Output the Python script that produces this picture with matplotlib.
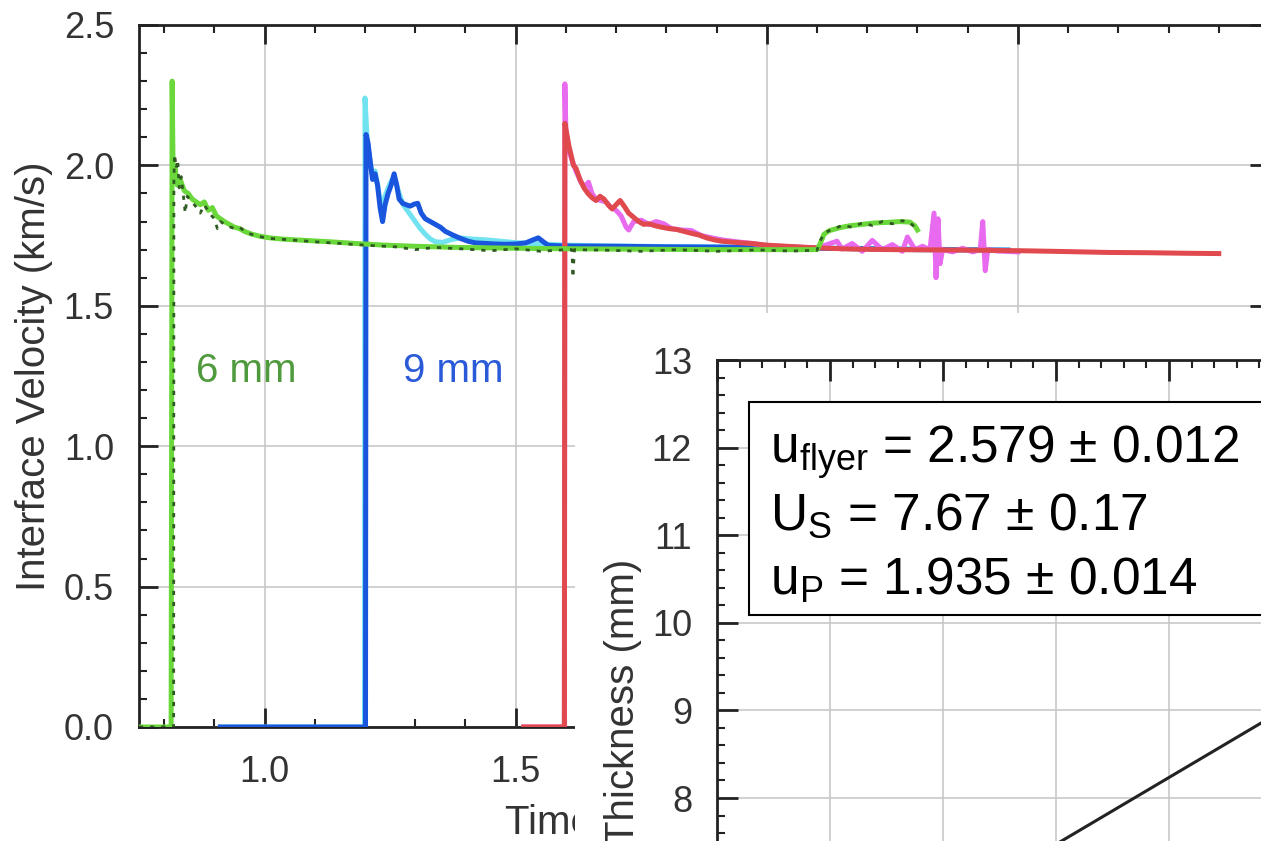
## velocity traces with the thickness-vs-time inset

import numpy as np
import matplotlib
matplotlib.use("Agg")
import matplotlib.pyplot as plt
from matplotlib import rcParams
from matplotlib.patches import Rectangle
from matplotlib.ticker import MultipleLocator, FormatStrFormatter

rcParams.update({"font.family": ["Liberation Sans", "DejaVu Sans"],
                 "mathtext.fontset": "custom",
                 "mathtext.rm": "Liberation Sans",
                 "mathtext.it": "Liberation Sans:italic"})

# 6 mm, first probe (light green)
g_t = [0.750, 0.814, 0.816, 0.818, 0.822, 0.826, 0.832, 0.840, 0.848, 0.856, 0.864, 0.872,
       0.880, 0.888, 0.896, 0.904, 0.912, 0.920, 0.930, 0.940, 0.950, 0.960, 0.975, 0.990,
       1.010, 1.040, 1.080, 1.130, 1.180, 1.240, 1.300, 1.380, 1.460, 1.540, 1.620, 1.700,
       1.800, 1.900, 2.000, 2.100, 2.106, 2.114, 2.125, 2.145, 2.165, 2.190, 2.215, 2.240,
       2.265, 2.285, 2.295, 2.300]
g_v = [0.000, 0.000, 2.300, 1.960, 1.990, 1.930, 1.950, 1.910, 1.900, 1.880, 1.870, 1.860,
       1.870, 1.840, 1.850, 1.820, 1.810, 1.800, 1.790, 1.780, 1.775, 1.765, 1.755, 1.748,
       1.742, 1.737, 1.733, 1.728, 1.722, 1.716, 1.712, 1.708, 1.706, 1.704, 1.703, 1.702,
       1.701, 1.700, 1.700, 1.700, 1.720, 1.755, 1.768, 1.778, 1.785, 1.790, 1.795, 1.797,
       1.800, 1.798, 1.785, 1.770]

# 6 mm, second probe (dark green)
dg_t = [0.750, 0.819, 0.8195, 0.821, 0.824, 0.827, 0.830, 0.834, 0.838, 0.842, 0.846, 0.855,
        0.865, 0.872, 0.880, 0.890, 0.900, 0.906, 0.912, 0.925, 0.940, 0.950, 0.965, 0.985,
        1.010, 1.050, 1.100, 1.150, 1.200, 1.260, 1.300, 1.340, 1.400, 1.450, 1.500, 1.550,
        1.600, 1.612, 1.614, 1.617, 1.680, 1.750, 1.820, 1.900, 1.980, 2.050, 2.100, 2.106,
        2.115, 2.130, 2.150, 2.170, 2.190, 2.210, 2.230, 2.250, 2.270, 2.285, 2.300]
dg_v = [0.000, 0.000, 1.950, 2.040, 1.990, 2.020, 1.920, 1.960, 1.900, 1.830, 1.890, 1.870,
        1.850, 1.830, 1.860, 1.830, 1.810, 1.775, 1.800, 1.785, 1.775, 1.780, 1.760, 1.748,
        1.740, 1.735, 1.728, 1.722, 1.716, 1.710, 1.700, 1.708, 1.702, 1.696, 1.703, 1.694,
        1.700, 1.700, 1.600, 1.700, 1.698, 1.694, 1.700, 1.694, 1.699, 1.695, 1.698, 1.730,
        1.760, 1.772, 1.786, 1.780, 1.795, 1.786, 1.800, 1.792, 1.803, 1.796, 1.772]

# 9 mm, first probe (blue)
b_t = [0.912, 1.201, 1.202, 1.206, 1.210, 1.215, 1.220, 1.225, 1.230, 1.235, 1.240, 1.246,
       1.252, 1.258, 1.263, 1.268, 1.275, 1.282, 1.290, 1.298, 1.305, 1.312, 1.320, 1.330,
       1.340, 1.350, 1.360, 1.375, 1.390, 1.405, 1.420, 1.440, 1.460, 1.480, 1.500, 1.520,
       1.535, 1.545, 1.555, 1.565, 1.600, 1.700, 1.800, 1.900, 2.000, 2.100, 2.200, 2.300,
       2.400, 2.480]
b_v = [0.000, 0.000, 2.110, 2.080, 2.020, 1.950, 1.970, 1.930, 1.850, 1.800, 1.860, 1.900,
       1.930, 1.970, 1.930, 1.880, 1.865, 1.860, 1.855, 1.862, 1.865, 1.830, 1.810, 1.800,
       1.790, 1.780, 1.765, 1.752, 1.740, 1.730, 1.724, 1.722, 1.720, 1.719, 1.720, 1.724,
       1.735, 1.742, 1.728, 1.715, 1.713, 1.712, 1.710, 1.709, 1.707, 1.705, 1.703, 1.700,
       1.699, 1.698]

# 9 mm, second probe (cyan)
c_t = [0.912, 1.199, 1.200, 1.204, 1.208, 1.214, 1.220, 1.226, 1.232, 1.238, 1.246, 1.254,
       1.260, 1.268, 1.276, 1.284, 1.292, 1.300, 1.310, 1.320, 1.330, 1.340, 1.355, 1.370,
       1.390, 1.410, 1.440, 1.470, 1.500, 1.530, 1.600, 1.700, 1.800, 1.900, 2.000, 2.100,
       2.200, 2.300, 2.400, 2.480]
c_v = [0.000, 0.000, 2.240, 2.100, 2.040, 1.970, 1.980, 1.920, 1.860, 1.880, 1.920, 1.950,
       1.950, 1.900, 1.860, 1.840, 1.820, 1.800, 1.775, 1.755, 1.738, 1.728, 1.726, 1.735,
       1.742, 1.738, 1.735, 1.730, 1.725, 1.722, 1.716, 1.713, 1.711, 1.710, 1.708, 1.706,
       1.704, 1.702, 1.700, 1.699]

# 12 mm, first probe (red)
r_t = [1.516, 1.597, 1.598, 1.602, 1.606, 1.610, 1.615, 1.620, 1.628, 1.636, 1.644, 1.652,
       1.660, 1.668, 1.676, 1.684, 1.692, 1.700, 1.708, 1.716, 1.725, 1.735, 1.745, 1.755,
       1.765, 1.778, 1.790, 1.805, 1.820, 1.835, 1.850, 1.865, 1.880, 1.895, 1.910, 1.930,
       1.950, 1.970, 2.000, 2.040, 2.080, 2.120, 2.170, 2.250, 2.340, 2.420, 2.510, 2.600,
       2.680, 2.760, 2.840, 2.900]
r_v = [0.000, 0.000, 2.150, 2.110, 2.070, 2.040, 2.000, 1.990, 1.950, 1.920, 1.900, 1.885,
       1.875, 1.890, 1.880, 1.860, 1.845, 1.860, 1.875, 1.855, 1.830, 1.815, 1.800, 1.790,
       1.792, 1.785, 1.780, 1.775, 1.772, 1.765, 1.758, 1.752, 1.742, 1.735, 1.730, 1.727,
       1.724, 1.722, 1.716, 1.712, 1.708, 1.705, 1.702, 1.700, 1.699, 1.698, 1.696, 1.693,
       1.690, 1.689, 1.687, 1.686]

# 12 mm, second probe (magenta)
m_t = [1.516, 1.597, 1.598, 1.600, 1.605, 1.612, 1.620, 1.630, 1.638, 1.645, 1.652, 1.660,
       1.670, 1.680, 1.690, 1.700, 1.710, 1.720, 1.725, 1.735, 1.750, 1.765, 1.780, 1.795,
       1.810, 1.830, 1.850, 1.870, 1.890, 1.910, 1.940, 1.970, 2.000, 2.050, 2.100, 2.120,
       2.140, 2.150, 2.170, 2.190, 2.210, 2.230, 2.250, 2.270, 2.280, 2.295, 2.310, 2.325,
       2.333, 2.337, 2.341, 2.345, 2.350, 2.370, 2.390, 2.410, 2.425, 2.430, 2.435, 2.440,
       2.460, 2.500]
m_v = [0.000, 0.000, 2.290, 2.120, 2.060, 2.020, 1.980, 1.940, 1.925, 1.940, 1.900, 1.880,
       1.875, 1.870, 1.850, 1.840, 1.820, 1.780, 1.770, 1.800, 1.805, 1.790, 1.800, 1.792,
       1.775, 1.770, 1.768, 1.750, 1.742, 1.735, 1.728, 1.722, 1.714, 1.710, 1.706, 1.718,
       1.730, 1.702, 1.722, 1.694, 1.733, 1.700, 1.718, 1.694, 1.745, 1.700, 1.712, 1.700,
       1.830, 1.600, 1.810, 1.650, 1.700, 1.692, 1.705, 1.692, 1.700, 1.800, 1.625, 1.700,
       1.695, 1.692]

# inset: shock arrival fit, thickness (mm) vs time (us)
fit_t = [0.95, 1.30]
fit_d = [7.09, 9.76]
fit_text = [r"u$_{\mathrm{flyer}}$ = 2.579 ± 0.012",
            r"U$_{\mathrm{S}}$ = 7.67 ± 0.17",
            r"u$_{\mathrm{P}}$ = 1.935 ± 0.014"]

W, H = 1261.0, 841.0
fig = plt.figure(figsize=(W / 100, H / 100), dpi=100)

ax = fig.add_axes([139 / W, 1 - 727 / H, 1130 / W, 702 / H])
ax.plot(c_t, c_v, color="#70e2f0", lw=3.6, zorder=2)
ax.plot(b_t, b_v, color="#1a55dd", lw=3.6, zorder=3)
ax.plot(m_t, m_v, color="#e86bef", lw=3.6, zorder=4)
ax.plot(r_t, r_v, color="#e04a4e", lw=3.6, zorder=5)
ax.plot(g_t, g_v, color="#6ad83a", lw=3.6, zorder=6)
ax.plot(dg_t, dg_v, color="#2f5a22", lw=2.0, ls=(0, (1.5, 2.5)), zorder=7)
ax.text(0.964, 1.268, "6 mm", color="#4f9a3c", fontsize=29, ha="center", va="center")
ax.text(1.376, 1.268, "9 mm", color="#2a5ad8", fontsize=29, ha="center", va="center")

ax.set_xlim(0.75, 3.0)
ax.set_ylim(0.0, 2.5)
ax.xaxis.set_major_locator(MultipleLocator(0.5))
ax.xaxis.set_minor_locator(MultipleLocator(0.1))
ax.yaxis.set_major_locator(MultipleLocator(0.5))
ax.yaxis.set_minor_locator(MultipleLocator(0.1))
ax.xaxis.set_major_formatter(FormatStrFormatter("%.1f"))
ax.yaxis.set_major_formatter(FormatStrFormatter("%.1f"))
ax.grid(True, which="major", color="#c8c8c8", lw=1.2)
ax.set_axisbelow(True)
ax.tick_params(which="both", direction="in", top=True, right=True, colors="#222222",
               labelcolor="#333333", labelsize=26)
ax.tick_params(which="major", length=14, width=2)
ax.tick_params(which="minor", length=6, width=1.5)
ax.tick_params(axis="y", pad=18)
ax.tick_params(axis="x", pad=20)
for s in ax.spines.values():
    s.set_linewidth(2)
    s.set_color("#222222")
ax.set_xlabel("Time (µs)", fontsize=29, color="#333333", ha="center", va="top")
ax.xaxis.set_label_coords(0.399, -0.1097)
ax.set_ylabel("Interface Velocity (km/s)", fontsize=29, color="#333333")
ax.yaxis.set_label_coords(-0.0757, 0.5)

# white panel behind the inset
fig.add_artist(Rectangle((575 / W, -0.1), 0.6, 1.1 - 313 / H, transform=fig.transFigure,
                         facecolor="white", edgecolor="none", zorder=1))

ins = fig.add_axes([717 / W, 1 - 360 / H - 700.8 / H, 678 / W, 700.8 / H])
ins.set_zorder(2)
ins.plot(fit_t, fit_d, color="#222222", lw=2.2)
ins.set_xlim(0.7, 1.3)
ins.set_ylim(5, 13)
ins.xaxis.set_major_locator(MultipleLocator(0.1))
ins.xaxis.set_minor_locator(MultipleLocator(0.02))
ins.yaxis.set_major_locator(MultipleLocator(1))
ins.yaxis.set_minor_locator(MultipleLocator(0.2))
ins.grid(True, which="major", color="#c8c8c8", lw=1.2)
ins.set_axisbelow(True)
ins.tick_params(which="both", direction="in", top=True, right=True, colors="#222222",
                labelcolor="#333333", labelsize=26, pad=18, labelbottom=False)
ins.tick_params(which="major", length=15, width=2)
ins.tick_params(which="minor", length=6, width=1.5)
for s in ins.spines.values():
    s.set_linewidth(2)
    s.set_color("#222222")
ins.set_ylabel("Thickness (mm)", fontsize=29, color="#333333")
ins.yaxis.set_label_coords(-0.111, 0.512)

ins.add_patch(Rectangle((32 / 678, 1 - 255 / 700.8), 1.2, 213 / 700.8, transform=ins.transAxes,
                        facecolor="white", edgecolor="black", lw=1.5, zorder=5, clip_on=False))
for txt, yb in zip(fit_text, [463, 530, 595]):
    ins.text(53 / 678, 1 - (yb - 360) / 700.8, txt, transform=ins.transAxes, fontsize=37,
             color="black", va="baseline", ha="left", zorder=6)

fig.savefig("out.png", dpi=100)
